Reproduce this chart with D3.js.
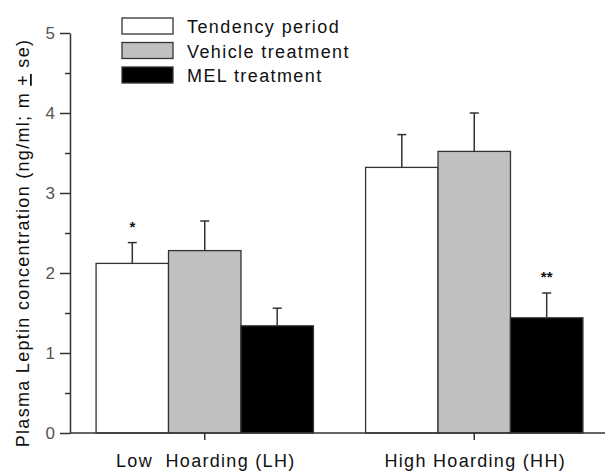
<!DOCTYPE html>
<html>
<head>
<meta charset="utf-8">
<script src="https://cdn.jsdelivr.net/npm/d3@7"></script>
<style>
	body{margin:0;background:#fff;}
	svg{display:block;font-family:Arial,"Liberation Sans",sans-serif;}
</style>
</head>
<body>
<div class="c_chart"></div>
<script>

/*DATA
------------------------------------------------------
*/

const groups = ["Low  Hoarding (LH)", "High Hoarding (HH)"];
const series = ["Tendency period", "Vehicle treatment", "MEL treatment"];
const fills = ["#ffffff", "#c0c0c0", "#000000"];

// mean per group, one array per series
const means = [
	[2.12, 3.32],   // Tendency period
	[2.28, 3.52],   // Vehicle treatment
	[1.34, 1.44]    // MEL treatment
];
const errors = [
	[0.26, 0.41],
	[0.37, 0.48],
	[0.22, 0.31]
];

// significance marks : group index, series index, label
const marks = [
	{g:0, s:0, label:"*"},
	{g:1, s:2, label:"**"}
];

const yTicks = [0, 1, 2, 3, 4, 5];
const yMinorTicks = [0.5, 1.5, 2.5, 3.5, 4.5];


/*SVG
------------------------------------------------------
*/

const width = 605;
const height = 472;
const margin = {top:33, right:0, bottom:39, left:70};

let svg = d3.select(".c_chart")
	.append("svg")
	.attr("width", width)
	.attr("height", height);

const x0 = d3.scaleBand()
	.domain(groups)
	.range([margin.left, 609]);

const x1 = d3.scaleBand()
	.domain(series)
	.range([0, x0.bandwidth()])
	.paddingOuter(0.36);

const y = d3.scaleLinear()
	.domain([0, 5])
	.range([height - margin.bottom, margin.top]);


/*BARS
------------------------------------------------------
*/

let rows = [];
series.forEach((s, i) => {
	groups.forEach((g, j) => {
		rows.push({s:s, g:g, si:i, gi:j, v:means[i][j], e:errors[i][j]});
	});
});

// error bars (upper only), drawn first so bars cover the stem base
let err = svg.append("g")
	.attr("stroke", "#333")
	.attr("stroke-width", 1.5);

rows.forEach(d => {
	const cx = x0(d.g) + x1(d.s) + x1.bandwidth() / 2;
	err.append("line")
		.attr("x1", cx).attr("x2", cx)
		.attr("y1", y(d.v)).attr("y2", y(d.v + d.e));
	err.append("line")
		.attr("x1", cx - 4.5).attr("x2", cx + 4.5)
		.attr("y1", y(d.v + d.e)).attr("y2", y(d.v + d.e));
});

svg.append("g")
	.selectAll("rect")
	.data(rows)
	.enter()
	.append("rect")
	.attr("x", d => x0(d.g) + x1(d.s))
	.attr("y", d => y(d.v))
	.attr("width", x1.bandwidth())
	.attr("height", d => y(0) - y(d.v))
	.attr("fill", d => fills[d.si])
	.attr("stroke", "#333")
	.attr("stroke-width", 1.3);

// stars
marks.forEach(m => {
	const g = groups[m.g], s = series[m.s];
	svg.append("text")
		.attr("x", x0(g) + x1(s) + x1.bandwidth() / 2)
		.attr("y", y(means[m.s][m.g] + errors[m.s][m.g]) - 11)
		.attr("text-anchor", "middle")
		.attr("font-size", 15)
		.attr("font-weight", "bold")
		.attr("fill", "#111")
		.text(m.label);
});


/*AXES
------------------------------------------------------
*/

let yAxis = svg.append("g")
	.attr("transform", `translate(${margin.left},0)`)
	.call(d3.axisLeft(y).tickValues(yTicks).tickFormat(d3.format("d"))
		.tickSize(10).tickPadding(5).tickSizeOuter(0));

svg.append("g")
	.attr("transform", `translate(${margin.left},0)`)
	.call(d3.axisLeft(y).tickValues(yMinorTicks).tickSize(5).tickFormat("").tickSizeOuter(0))
	.select(".domain").remove();

yAxis.selectAll("text")
	.attr("font-size", 17)
	.attr("fill", "#555")
	.attr("font-family", "Arial, 'Liberation Sans', sans-serif");

svg.selectAll(".domain, .tick line")
	.attr("stroke", "#333")
	.attr("stroke-width", 1.5);

// x axis
svg.append("line")
	.attr("x1", margin.left).attr("x2", width)
	.attr("y1", y(0)).attr("y2", y(0))
	.attr("stroke", "#333")
	.attr("stroke-width", 1.5);

groups.forEach(g => {
	const cx = x0(g) + x0.bandwidth() / 2;
	svg.append("line")
		.attr("x1", cx).attr("x2", cx)
		.attr("y1", y(0)).attr("y2", y(0) + 7)
		.attr("stroke", "#333")
		.attr("stroke-width", 1.5);
	svg.append("text")
		.attr("x", cx + 1)
		.attr("y", 467)
		.attr("text-anchor", "middle")
		.attr("font-size", 18)
		.attr("letter-spacing", 1.3)
		.attr("fill", "#111")
		.attr("xml:space", "preserve")
		.style("white-space", "pre")
		.text(g);
});

// y title
let yTitle = svg.append("text")
	.attr("transform", "translate(29,243) rotate(-90)")
	.attr("text-anchor", "middle")
	.attr("font-size", 18)
	.attr("letter-spacing", 1.3)
	.attr("fill", "#111");
yTitle.append("tspan").text("Plasma Leptin concentration (ng/ml; m ");
yTitle.append("tspan").attr("text-decoration", "underline").text("+");
yTitle.append("tspan").text(" se)");


/*LEGEND
------------------------------------------------------
*/

let legend = svg.append("g")
	.attr("transform", "translate(122,18)");

series.forEach((s, i) => {
	let row = legend.append("g")
		.attr("transform", `translate(0,${i * 24.5})`);
	row.append("rect")
		.attr("width", 51)
		.attr("height", 16)
		.attr("fill", fills[i])
		.attr("stroke", "#333")
		.attr("stroke-width", 1.3);
	row.append("text")
		.attr("x", 65)
		.attr("y", 15)
		.attr("font-size", 18)
		.attr("letter-spacing", 1.4)
		.attr("fill", "#111")
		.text(s);
});

</script>
</body>
</html>
